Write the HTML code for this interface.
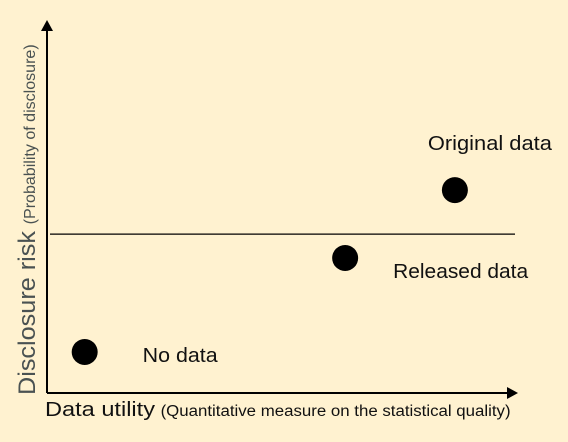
<!DOCTYPE html>
<html><head><meta charset="utf-8"><style>
html,body{margin:0;padding:0;background:#fff2d0;}
svg{display:block;font-family:"Liberation Sans",sans-serif;}
</style></head><body>
<svg width="568" height="442" viewBox="0 0 568 442">
<rect width="568" height="442" fill="#fff2d0"/>
<g id="plot"></g>
<text x="45" y="416" font-size="20" fill="#111"><tspan textLength="110" lengthAdjust="spacingAndGlyphs">Data utility</tspan> <tspan font-size="15.5" textLength="350" lengthAdjust="spacingAndGlyphs">(Quantitative measure on the statistical quality)</tspan></text>
<text transform="translate(35,395) rotate(-90)" font-size="24" fill="#4a5252"><tspan textLength="164" lengthAdjust="spacingAndGlyphs">Disclosure risk</tspan> <tspan font-size="15.5" textLength="180" lengthAdjust="spacingAndGlyphs">(Probability of disclosure)</tspan></text>
</svg>
<script>
const labels = ["No data", "Released data", "Original data"];
const utility = [8, 63.3, 86.6];
const risk = [11, 36.2, 54.4];
const threshold = [42.6];
const X0=47, X1=518, Y0=393, Y1=20;
const sx = v => X0 + v/100*(X1-X0);
const sy = v => Y0 - v/100*(Y0-Y1);
const NS="http://www.w3.org/2000/svg";
const g=document.getElementById('plot');
function mk(tag, attrs){const e=document.createElementNS(NS,tag);for(const k in attrs)e.setAttribute(k,attrs[k]);g.appendChild(e);return e;}
let e;
e=mk('line',{x1:X0,y1:Y0,x2:X0,y2:Y1+10,stroke:'#000','stroke-width':2});


e=mk('polygon',{points:`${X0-6},${Y1+11} ${X0+6},${Y1+11} ${X0},${Y1}`,fill:'#000'});


e=mk('line',{x1:X0,y1:Y0,x2:X1-10,y2:Y0,stroke:'#000','stroke-width':2});


e=mk('polygon',{points:`${X1-11},${Y0-6} ${X1-11},${Y0+6} ${X1},${Y0}`,fill:'#000'});


threshold.forEach(t=>{
  const l=mk('line',{x1:50,y1:sy(t),x2:515,y2:sy(t),stroke:'#000','stroke-width':1.2});
  
  
});
const off=[[58,10],[48,20],[-27,-40]];
const lens=[75,135,124];
labels.forEach((lab,i)=>{
  const c=mk('circle',{cx:sx(utility[i]),cy:sy(risk[i]),r:13,fill:'#000'});
  
  
  const t=mk('text',{x:sx(utility[i])+off[i][0],y:sy(risk[i])+off[i][1],'font-size':20,fill:'#111',textLength:lens[i],lengthAdjust:'spacingAndGlyphs'});
  t.textContent=lab;
  
  
});
</script>
</body></html>
